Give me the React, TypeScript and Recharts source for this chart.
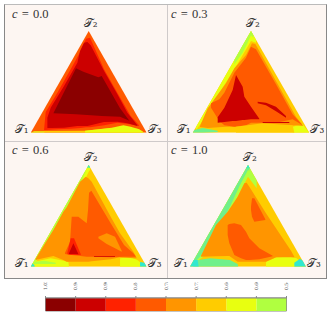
import { Area, Bar, BarChart, ComposedChart, ReferenceArea, ReferenceDot, XAxis, YAxis } from "recharts";

type Pt = [number, number, number]; // position along the base, lower edge, upper edge (grid units)

const binEdges = [0.96, 0.9, 0.84, 0.78, 0.72, 0.66, 0.6, 0.54, 0.48, 0.42];
const binColors = ["#8b0000", "#cc0000", "#ff2200", "#ff5a00", "#ff9500", "#ffcc00", "#e8ff10", "#b0ff40", "#70f08a", "#30e8d0"];
const colorTicks = [1.02, 0.96, 0.9, 0.84, 0.78, 0.72, 0.66, 0.6, 0.54];
const colorRow = [{ row: "c", b0: 0.54, b1: 0.06, b2: 0.06, b3: 0.06, b4: 0.06, b5: 0.06, b6: 0.06, b7: 0.06, b8: 0.06 }];

const colorFor = (level: number) => {
  const i = binEdges.findIndex((e) => level >= e);
  return binColors[i < 0 ? binColors.length - 1 : i];
};

// c = 0.0
const p1Rim: Pt[] = [[0, 0, 0], [174, 0, 305], [348, 0, 0]];
const p1Base: Pt[] = [[0, 0, 0], [10, 0, 4], [40, 0, 4], [42, 0, 0]];
const p1Strip: Pt[] = [[40, 0, 5], [163, 0, 6], [243, 0, 14], [320, 0, 12], [335, 0, 5], [340, 0, 0]];
const p1Yellow: Pt[] = [[163, 0, 6], [243, 0, 15], [278, 0, 22], [300, 0, 18], [325, 0, 10], [340, 0, 0]];
const p1Hot: Pt[] = [[40, 8, 8], [45, 8, 62], [80, 10, 120], [120, 12, 190], [150, 14, 245], [166, 16, 282], [178, 16, 285], [220, 22, 190], [260, 30, 120], [300, 25, 50], [325, 20, 22]];
const p1Red: Pt[] = [[50, 14, 45], [60, 14, 75], [100, 15, 140], [140, 20, 210], [148, 20, 245], [160, 20, 270], [170, 20, 272], [180, 22, 262], [220, 32, 185], [260, 33, 115], [290, 28, 60], [320, 20, 22]];
const p1Dark: Pt[] = [[68, 58, 58], [136, 55, 193], [158, 54, 183], [203, 51, 166], [213, 50, 170], [268, 48, 73], [296, 36, 36]];

// c = 0.3
const p2Rim: Pt[] = [[0, 0, 0], [175, 0, 305], [350, 0, 0]];
const p2LeftLime: Pt[] = [[10, 7, 17], [40, 50, 69], [80, 120, 139], [125, 190, 218], [175, 275, 305], [190, 270, 279]];
const p2LeftGreen: Pt[] = [[125, 205, 218], [150, 240, 262], [165, 270, 288], [175, 292, 305], [182, 285, 292]];
const p2TipLeft: Pt[] = [[0, 0, 0], [5, 0, 8], [30, 0, 14], [75, 2, 6]];
const p2TipRight: Pt[] = [[300, 0, 18], [330, 0, 25], [350, 0, 0]];
const p2Orange: Pt[] = [[22, 17, 20], [45, 14, 73], [100, 18, 148], [125, 18, 193], [160, 18, 233], [178, 18, 268], [188, 18, 266], [200, 20, 245], [250, 18, 155], [310, 22, 48], [332, 20, 20]];
const p2Hot: Pt[] = [[55, 75, 88], [80, 35, 100], [95, 22, 120], [125, 18, 180], [160, 22, 225], [175, 30, 258], [190, 30, 250], [250, 30, 145], [300, 40, 55], [330, 22, 22]];
const p2Notch: Pt[] = [[130, 0, 18], [210, 0, 28], [300, 0, 22], [305, 0, 0]];
const p2Red: Pt[] = [[75, 30, 46], [95, 32, 75], [120, 35, 128], [130, 35, 173], [150, 38, 138], [155, 38, 108], [175, 40, 78], [200, 40, 42]];
const p2Streak: Pt[] = [[195, 88, 93], [220, 82, 90], [250, 64, 78], [280, 45, 50]];
const p2Line: Pt[] = [[210, 29, 32], [290, 29, 32]];

// c = 0.6
const p3Rim: Pt[] = [[0, 0, 0], [174, 0, 305], [348, 0, 0]];
const p3LeftLime: Pt[] = [[0, 0, 0], [40, 40, 70], [100, 145, 175], [150, 235, 263], [174, 285, 305], [178, 290, 298]];
const p3LeftGreen: Pt[] = [[10, 8, 17], [60, 90, 105], [100, 165, 175], [130, 215, 228], [150, 250, 263], [165, 285, 289]];
const p3TopTip: Pt[] = [[170, 295, 298], [174, 298, 305], [178, 295, 298]];
const p3BottomLeft: Pt[] = [[8, 0, 14], [60, 0, 25], [100, 0, 18], [113, 0, 14], [115, 0, 0]];
const p3BottomLeftGreen: Pt[] = [[8, 8, 14], [40, 8, 18], [75, 8, 12]];
const p3TipLeft: Pt[] = [[0, 0, 0], [6, 0, 10], [12, 0, 3]];
const p3BottomRight: Pt[] = [[268, 0, 25], [300, 0, 28], [320, 0, 20], [335, 0, 8], [348, 0, 0]];
const p3TipRight: Pt[] = [[328, 0, 14], [341, 0, 12], [348, 0, 0]];
const p3Orange: Pt[] = [[15, 20, 24], [40, 26, 65], [68, 32, 110], [98, 20, 165], [108, 15, 178], [148, 15, 255], [165, 15, 270], [173, 15, 265], [183, 16, 255], [240, 22, 150], [268, 28, 100], [308, 25, 45], [318, 25, 26]];
const p3Hot: Pt[] = [[103, 38, 42], [118, 35, 75], [123, 35, 150], [143, 33, 150], [168, 30, 130], [172, 30, 170], [175, 30, 222], [182, 30, 228], [240, 28, 130], [280, 30, 65], [308, 30, 40], [315, 30, 31]];
const p3Lens: Pt[] = [[203, 85, 90], [228, 68, 100], [253, 55, 90], [273, 45, 48]];
const p3Glow: Pt[] = [[110, 38, 42], [120, 35, 85], [130, 35, 85], [150, 35, 38]];
const p3Red: Pt[] = [[115, 38, 40], [128, 38, 70], [143, 37, 38]];
const p3Line: Pt[] = [[190, 29, 31], [253, 29, 31]];

// c = 1.0
const p4Rim: Pt[] = [[0, 0, 0], [174, 0, 305], [348, 0, 0]];
const p4Lime: Pt[] = [[0, 0, 0], [40, 30, 70], [100, 125, 175], [150, 225, 263], [174, 270, 305], [200, 235, 259]];
const p4Green: Pt[] = [[0, 0, 0], [30, 30, 52], [80, 105, 140], [120, 180, 210], [150, 245, 263], [174, 290, 305], [178, 288, 298]];
const p4TopTip: Pt[] = [[170, 293, 298], [174, 298, 305], [178, 293, 298]];
const p4BottomLeft: Pt[] = [[10, 0, 18], [60, 0, 25], [120, 0, 20], [143, 0, 8], [145, 0, 0]];
const p4TipLeft: Pt[] = [[0, 0, 0], [12, 0, 21], [23, 0, 20], [26, 0, 0]];
const p4BottomRight: Pt[] = [[228, 0, 15], [260, 0, 28], [300, 0, 30], [320, 0, 25], [348, 0, 0]];
const p4TipRight: Pt[] = [[313, 0, 12], [330, 0, 24], [338, 0, 18], [348, 0, 0]];
const p4Orange: Pt[] = [[33, 30, 33], [78, 31, 125], [113, 32, 165], [118, 32, 172], [143, 15, 210], [163, 15, 250], [170, 15, 252], [178, 15, 240], [228, 15, 160], [258, 28, 115], [303, 28, 48], [313, 28, 30]];
const p4BlobA: Pt[] = [[113, 95, 125], [118, 70, 128], [133, 35, 130], [153, 25, 125], [168, 20, 105], [178, 20, 85], [208, 22, 55], [248, 31, 33]];
const p4BlobB: Pt[] = [[183, 170, 180], [186, 150, 205], [193, 135, 205], [226, 140, 142]];

const panels = [
  {
    title: "0.0", side: 348, box: [5, 5, 162, 136], tri: [30.7, 31, 146.7, 132.7],
    regions: [[0.81, p1Rim], [0.69, p1Strip], [0.63, p1Base], [0.87, p1Hot], [0.93, p1Red], [0.99, p1Dark], [0.63, p1Yellow]],
  },
  {
    title: "0.3", side: 350, box: [167, 5, 160, 136], tri: [192.7, 31, 309.3, 132.7],
    regions: [[0.69, p2Rim], [0.63, p2LeftLime], [0.57, p2LeftGreen], [0.51, p2TipLeft], [0.63, p2TipRight], [0.75, p2Orange], [0.81, p2Hot], [0.69, p2Notch], [0.93, p2Red], [0.93, p2Streak], [0.93, p2Line]],
  },
  {
    title: "0.6", side: 348, box: [5, 141, 162, 138], tri: [30.7, 165, 146.7, 266.7],
    regions: [[0.69, p3Rim], [0.63, p3LeftLime], [0.57, p3LeftGreen], [0.45, p3TopTip], [0.63, p3BottomLeft], [0.57, p3BottomLeftGreen], [0.42, p3TipLeft], [0.63, p3BottomRight], [0.42, p3TipRight], [0.75, p3Orange], [0.81, p3Hot], [0.75, p3Lens], [0.87, p3Glow], [0.93, p3Red], [0.93, p3Line]],
  },
  {
    title: "1.0", side: 348, box: [167, 141, 160, 138], tri: [190, 165, 306, 266.7],
    regions: [[0.69, p4Rim], [0.57, p4Lime], [0.51, p4Green], [0.45, p4TopTip], [0.51, p4BottomLeft], [0.42, p4TipLeft], [0.63, p4BottomRight], [0.42, p4TipRight], [0.75, p4Orange], [0.81, p4BlobA], [0.81, p4BlobB]],
  },
] as { title: string; side: number; box: number[]; tri: number[]; regions: [number, Pt[]][] }[];

const HEIGHT_UNITS = 305;
const serif = "'DejaVu Serif', 'Liberation Serif', serif";

function Panel({ title, side, box, tri, regions }: (typeof panels)[number]) {
  const [bx, by, bw, bh] = box;
  const [left, top, right, bottom] = tri;
  const vertexLabel = (x: number, y: number, text: string, dx: number, dy: number) => (
    <ReferenceDot
      x={x}
      y={y}
      r={0}
      ifOverflow="visible"
      label={{ value: text, position: "center", dx, dy, fontSize: 12, fontFamily: serif, fill: "#333" } as any}
    />
  );
  return (
    <div style={{ position: "absolute", left: bx, top: by, width: bw, height: bh }}>
      <ComposedChart
        width={bw}
        height={bh}
        margin={{ left: left - bx, top: top - by, right: bx + bw - right, bottom: by + bh - bottom }}
      >
        <XAxis type="number" dataKey="u" domain={[0, side]} hide allowDataOverflow />
        <YAxis type="number" domain={[0, HEIGHT_UNITS]} hide allowDataOverflow />
        {regions.map(([level, pts], i) => (
          <Area
            key={i}
            data={pts.map(([u, lo, hi]) => ({ u, band: [lo, hi] }))}
            dataKey="band"
            type="linear"
            fill={colorFor(level)}
            fillOpacity={1}
            stroke="none"
            dot={false}
            activeDot={false}
            isAnimationActive={false}
          />
        ))}
        {vertexLabel(0, 0, "𝒯₁", -9, -4)}
        {vertexLabel(side / 2, HEIGHT_UNITS, "𝒯₂", 2, -8)}
        {vertexLabel(side, 0, "𝒯₃", 8, -4)}
      </ComposedChart>
      <div
        style={{
          position: "absolute",
          left: title === "0.0" || title === "0.6" ? 7 : 4,
          top: 2,
          fontFamily: "'Liberation Serif', serif",
          fontSize: 12.5,
          color: "#333",
          wordSpacing: 1,
          whiteSpace: "nowrap",
        }}
      >
        <i>c</i> = {title}
      </div>
    </div>
  );
}

const ColorTick = ({ x, y, payload }: any) => (
  <text
    transform={`rotate(-90 ${x} ${y - 4})`}
    x={x}
    y={y - 4}
    fontSize={4.5}
    fontFamily={serif}
    fill="#555"
    dominantBaseline="central"
  >
    {payload.value.toFixed(2)}
  </text>
);

export default function App() {
  return (
    <div style={{ position: "absolute", left: 0, top: 0, width: 333, height: 315, background: "#fff", overflow: "hidden" }}>
      <div style={{ position: "absolute", left: 4, top: 4, width: 323, height: 275, background: "#fdf6f2", boxSizing: "border-box" }} />
      {panels.map((p) => (
        <Panel key={p.title} {...p} />
      ))}
      <div style={{ position: "absolute", left: 167, top: 4, width: 1, height: 275, background: "#cfcaca" }} />
      <div style={{ position: "absolute", left: 4, top: 141, width: 323, height: 1, background: "#cfcaca" }} />
      <div style={{ position: "absolute", left: 4, top: 4, width: 323, height: 275, border: "1px solid #888", borderTopColor: "#bbb", borderLeftWidth: 1.5, borderRightWidth: 1.5, borderBottomWidth: 1.5, boxSizing: "border-box" }} />
      <div style={{ position: "absolute", left: 0, top: 282 }}>
        <BarChart
          width={333}
          height={33}
          layout="vertical"
          data={colorRow}
          barCategoryGap={0}
          margin={{ left: 45.5, right: 46.5, top: 0, bottom: 4 }}
        >
          <XAxis
            type="number"
            orientation="top"
            domain={[0.54, 1.02]}
            reversed
            allowDataOverflow
            ticks={colorTicks}
            interval={0}
            height={16}
            tick={<ColorTick />}
            tickSize={2}
            stroke="#888"
          />
          <YAxis type="category" dataKey="row" hide />
          <Bar dataKey="b0" stackId="bins" fill="none" isAnimationActive={false} />
          {["b1", "b2", "b3", "b4", "b5", "b6", "b7", "b8"].map((key, i) => (
            <Bar key={key} dataKey={key} stackId="bins" fill={binColors[7 - i]} isAnimationActive={false} />
          ))}
          <ReferenceArea x1={0.54} x2={1.02} fill="none" stroke="#888" strokeWidth={1} ifOverflow="visible" />
        </BarChart>
      </div>
    </div>
  );
}
